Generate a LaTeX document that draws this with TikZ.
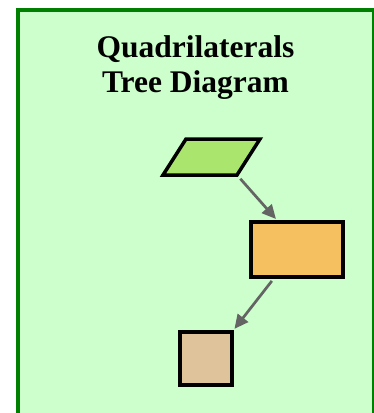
\documentclass[tikz,border=0pt]{standalone}
\usepackage{fontspec}
\setmainfont{Liberation Serif}
\usepackage{tikz}
\usetikzlibrary{arrows.meta,positioning,calc}
\usepackage{xcolor}
\definecolor{framegreen}{RGB}{0,128,0}
\definecolor{palegreen}{RGB}{204,255,204}
\definecolor{paragreen}{RGB}{170,230,110}
\definecolor{rectorange}{RGB}{245,193,96}
\definecolor{squaretan}{RGB}{222,195,155}
\definecolor{arrowgray}{RGB}{100,100,100}

\begin{document}
\begin{tikzpicture}[x=1pt, y=-1pt,
    quad/.style={draw=black, line width=3.5pt, inner sep=0pt, outer sep=0pt},
    link/.style={draw=arrowgray, line width=2.7pt,
                 -{Triangle[length=14pt, width=13pt]}, shorten >=4pt, shorten <=5pt}
]
    \clip (0,0) rectangle (374,413);
    \useasboundingbox (0,0) rectangle (374,413);
    % background panel
    \draw[framegreen, fill=palegreen, line width=4pt] (18,10) rectangle (374,417);
    \node[align=center, font=\bfseries\fontsize{31.5}{35}\selectfont, anchor=base] (title) at (195.5,92)
        {Quadrilaterals\\Tree Diagram};
    % shapes
    \coordinate (para-tl) at (186,139);
    \coordinate (para-tr) at (260,139);
    \coordinate (para-br) at (237,175);
    \coordinate (para-bl) at (163,175);
    \draw[quad, fill=paragreen, line join=miter] (para-tl) -- (para-tr) -- (para-br) -- (para-bl) -- cycle;
    \node[quad, rectangle, minimum width=92pt, minimum height=55pt, fill=rectorange] (rect) at (297,249.5) {};
    \node[quad, rectangle, minimum width=52pt, minimum height=53pt, fill=squaretan] (sq) at (206,358.5) {};
    % links
    \draw[link] (para-br) -- ($(rect.north west)!0.3!(rect.north east)$);
    \draw[link] ($(rect.south west)!0.26!(rect.south east)$) -- (sq.north east);
\end{tikzpicture}
\end{document}
